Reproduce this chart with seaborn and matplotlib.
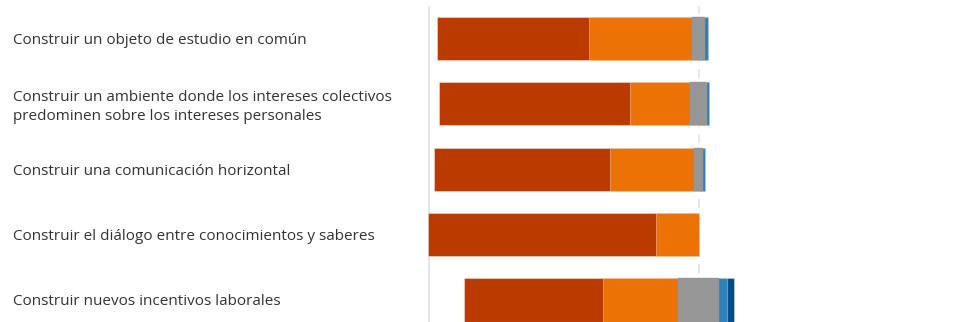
import matplotlib
matplotlib.use("Agg")
import matplotlib.pyplot as plt
import matplotlib.transforms as mtransforms
import numpy as np
import pandas as pd
import seaborn as sns

# Response shares (%) per statement
categories = [
    "Construir un objeto de estudio en común",
    "Construir un ambiente donde los intereses colectivos\npredominen sobre los intereses personales",
    "Construir una comunicación horizontal",
    "Construir el diálogo entre conocimientos y saberes",
    "Construir nuevos incentivos laborales",
]
muy_de_acuerdo = [56.1, 70.7, 65.1, 84.4, 51.5]
de_acuerdo = [38.1, 22.2, 31.1, 15.6, 27.8]
neutral = [4.8, 6.2, 3.0, 0.0, 14.8]
en_desacuerdo = [1.0, 0.9, 0.8, 0.0, 3.2]
muy_en_desacuerdo = [0.0, 0.0, 0.0, 0.0, 2.7]

colors = {
    "muy_de_acuerdo": "#BA3A00",
    "de_acuerdo": "#EC7206",
    "neutral": "#969696",
    "en_desacuerdo": "#2F7FB8",
    "muy_en_desacuerdo": "#004C89",
}

sns.set_theme(style="white")
plt.rcParams["font.family"] = ["Open Sans", "DejaVu Sans"]

W, H = 958, 322
fig = plt.figure(figsize=(W / 100, H / 100), dpi=100)
zero_px, left_px, top_px = 698.5, 428.0, 5.8
ax = fig.add_axes([left_px / W, 0.0, 1 - left_px / W, 1 - top_px / H])

keys = [f"r{i}" for i in range(len(categories))]
neu = np.array(neutral)
half = neu / 2

# Diverging layers: each bar runs from 0 to its cumulative end, drawn from
# the outermost segment inwards so inner segments paint over outer ones.
layers = [
    (half + np.array(en_desacuerdo) + np.array(muy_en_desacuerdo), colors["muy_en_desacuerdo"]),
    (half + np.array(en_desacuerdo), colors["en_desacuerdo"]),
    (-(half + np.array(de_acuerdo) + np.array(muy_de_acuerdo)), colors["muy_de_acuerdo"]),
    (-(half + np.array(de_acuerdo)), colors["de_acuerdo"]),
    (half, colors["neutral"]),
    (-half, colors["neutral"]),
]

ax.axvline(-100, color="#E4E4E4", lw=2, zorder=0)
ax.axvline(0, color="#E4E4E4", lw=1.3, ls=(0, (5, 4)), zorder=0)

for vals, col in layers:
    df = pd.DataFrame({"item": keys, "value": vals})
    if col == colors["neutral"]:
        edge, lw = col, 0.3
    else:
        edge, lw = (1, 1, 1, 0.35), 0.8
    sns.barplot(data=df, x="value", y="item", orient="h", color=col,
                saturation=1, width=0.66, edgecolor=edge, linewidth=lw,
                ax=ax, zorder=2)

# empty segments should leave no outline behind
for p in ax.patches:
    if abs(p.get_width()) < 1e-9:
        p.set_visible(False)

ax.set_xlim(-100, (W - zero_px) / ((zero_px - left_px) / 100))
ax.set_ylim(4 + (H - 300) / 65.38, -0.5)
ax.set_xlabel("")
ax.set_ylabel("")
ax.set_xticks([])
ax.set_yticks([])
for s in ax.spines.values():
    s.set_visible(False)

trans = mtransforms.blended_transform_factory(fig.transFigure, ax.transData)
for i, lab in enumerate(categories):
    yoff = 0.045 if "\n" in lab else 0.03
    fig.text(13 / W, i + yoff, lab, transform=trans, ha="left", va="center",
             fontsize=11, color="#333333", linespacing=1.41)

fig.savefig("out.png", dpi=100)
